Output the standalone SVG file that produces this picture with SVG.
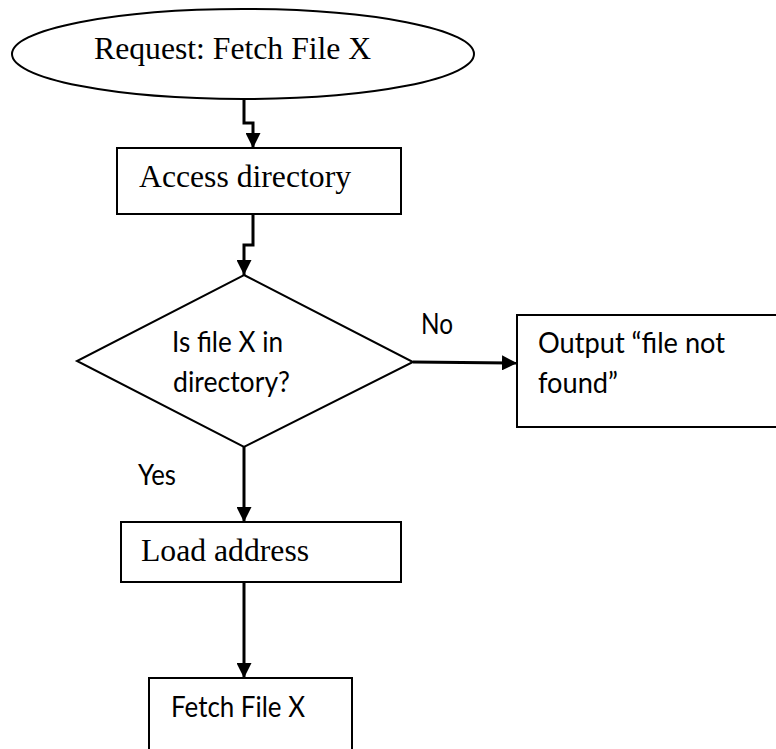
<svg xmlns="http://www.w3.org/2000/svg" width="776" height="749" viewBox="0 0 776 749">
  <defs>
    <marker id="arrow" markerUnits="userSpaceOnUse" markerWidth="15" markerHeight="15" refX="15" refY="7.5" orient="auto">
      <path d="M0,0 L15,7.5 L0,15 Z" fill="#000"/>
    </marker>
    <style>
      .shape { fill: #fff; stroke: #000; stroke-width: 2; }
      .conn { fill: none; stroke: #000; stroke-width: 3; marker-end: url(#arrow); }
      .serif { font-family: "Liberation Serif", "Times New Roman", serif; font-size: 31.7px; fill: #000; }
      .sans { font-family: Lato, "Open Sans", sans-serif; font-size: 29px; fill: #000; }
    </style>
  </defs>
  <rect width="776" height="749" fill="#fff"/>

  <g id="connectors">
    <path class="conn" d="M244,99 V123 H253 V148"/>
    <path class="conn" d="M253,214 V245 H244 V275"/>
    <path class="conn" d="M413,362 L517,363"/>
    <path class="conn" d="M244,447 V522"/>
    <path class="conn" d="M244,582 V678"/>
  </g>

  <g id="start">
    <ellipse class="shape" cx="243" cy="54" rx="231" ry="45"/>
    <text class="serif" x="94" y="59">Request: Fetch File X</text>
  </g>

  <g id="access">
    <rect class="shape" x="117" y="148" width="284" height="66"/>
    <text class="serif" x="139" y="187">Access directory</text>
  </g>

  <g id="decision">
    <polygon class="shape" points="244,275 413,362 244,447 77,361"/>
    <text class="sans" x="172" y="352" textLength="111" lengthAdjust="spacingAndGlyphs">Is file X in</text>
    <text class="sans" x="173" y="392" textLength="117" lengthAdjust="spacingAndGlyphs">directory?</text>
  </g>

  <g id="label-no">
    <text class="sans" x="421" y="334" textLength="32" lengthAdjust="spacingAndGlyphs">No</text>
  </g>

  <g id="notfound">
    <rect class="shape" x="517" y="315" width="280" height="112"/>
    <text class="sans" x="538" y="353" textLength="187" lengthAdjust="spacingAndGlyphs">Output “file not</text>
    <text class="sans" x="538" y="393" textLength="80" lengthAdjust="spacingAndGlyphs">found”</text>
  </g>

  <g id="label-yes">
    <text class="sans" x="138" y="485" textLength="38" lengthAdjust="spacingAndGlyphs">Yes</text>
  </g>

  <g id="load">
    <rect class="shape" x="121" y="522" width="280" height="60"/>
    <text class="serif" x="141" y="561">Load address</text>
  </g>

  <g id="fetch">
    <rect class="shape" x="149" y="678" width="203" height="90"/>
    <text class="sans" x="171" y="717" textLength="134" lengthAdjust="spacingAndGlyphs">Fetch File X</text>
  </g>
</svg>
